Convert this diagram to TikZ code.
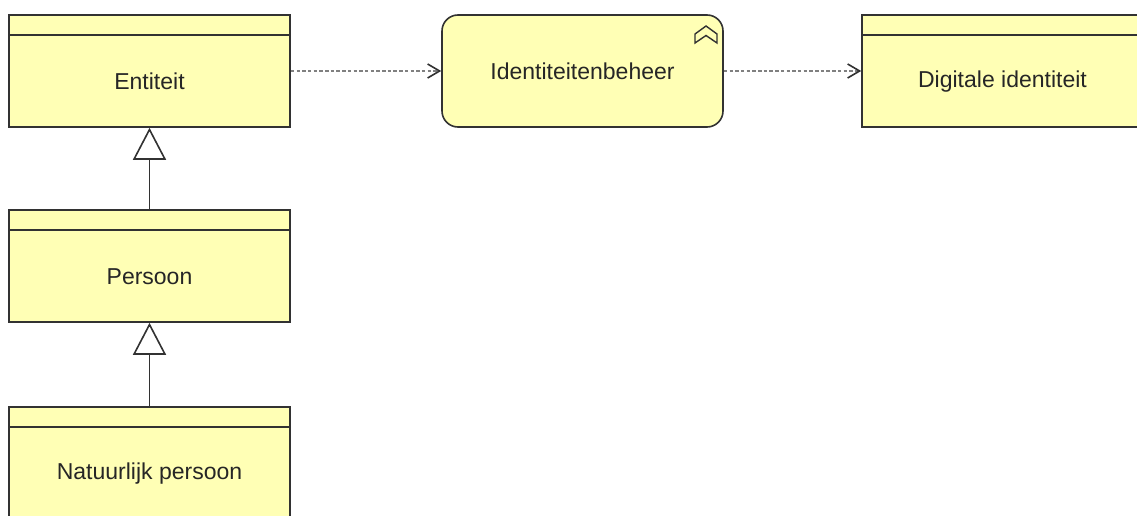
\documentclass[tikz,border=0pt]{standalone}
\usepackage{fontspec}
\setmainfont{Liberation Sans}
\usetikzlibrary{arrows.meta}
\definecolor{archiyellow}{RGB}{255,255,181}
\definecolor{archiline}{RGB}{50,50,50}
\begin{document}
\begin{tikzpicture}[x=1pt,y=-1pt,
    objbox/.style={draw=archiline,fill=archiyellow,line width=1.6pt,minimum width=281pt,minimum height=112pt,inner sep=0pt},
    funbox/.style={objbox,rounded corners=16pt},
    lbl/.style={font=\fontsize{23}{28}\selectfont,text=black!85,inner sep=0pt},
    header/.style={draw=archiline,line width=1.6pt},
    gen/.style={draw=archiline,line width=1.6pt,-{Triangle[open,length=32pt,width=33pt,fill=white]}},
    flow/.style={draw=gray,line width=2.2pt,dash pattern=on 3.5pt off 2.2pt,-{Straight Barb[length=12pt,width=14pt,line width=1.6pt,color=archiline]}}]
  \clip (0,0) rectangle (1137,516);
  \fill[white] (0,0) rectangle (1137,516);
  % objects
  \node[objbox,label={[lbl,yshift=-10.5pt]center:Entiteit}] (ent) at (149.5,71) {};
  \draw[header] ([yshift=-21pt]ent.north west) -- ([yshift=-21pt]ent.north east);
  \node[objbox,label={[lbl,yshift=-10.5pt]center:Persoon}] (pers) at (149.5,266) {};
  \draw[header] ([yshift=-21pt]pers.north west) -- ([yshift=-21pt]pers.north east);
  \node[objbox,label={[lbl,yshift=-10.5pt]center:Natuurlijk persoon}] (natp) at (149.5,463) {};
  \draw[header] ([yshift=-21pt]natp.north west) -- ([yshift=-21pt]natp.north east);
  \node[objbox,label={[lbl,yshift=-10.5pt]center:Digitale identiteit}] (digid) at (1002.5,71) {};
  \draw[header] ([yshift=-21pt]digid.north west) -- ([yshift=-21pt]digid.north east);
  % function
  \node[funbox,label={[lbl]center:Identiteitenbeheer}] (idbeh) at (582.5,71) {};
  \draw[archiline,line width=1.4pt,line join=miter] (695,43) -- (695,34) -- (706,26) -- (717,34) -- (717,43) -- (706,35.5) -- cycle;
  % relations
  \draw[gen] (pers.north) -- (ent.south);
  \draw[gen] (natp.north) -- (pers.south);
  \draw[flow] (ent.east) -- (idbeh.west);
  \draw[flow] (idbeh.east) -- (digid.west);
\end{tikzpicture}
\end{document}
